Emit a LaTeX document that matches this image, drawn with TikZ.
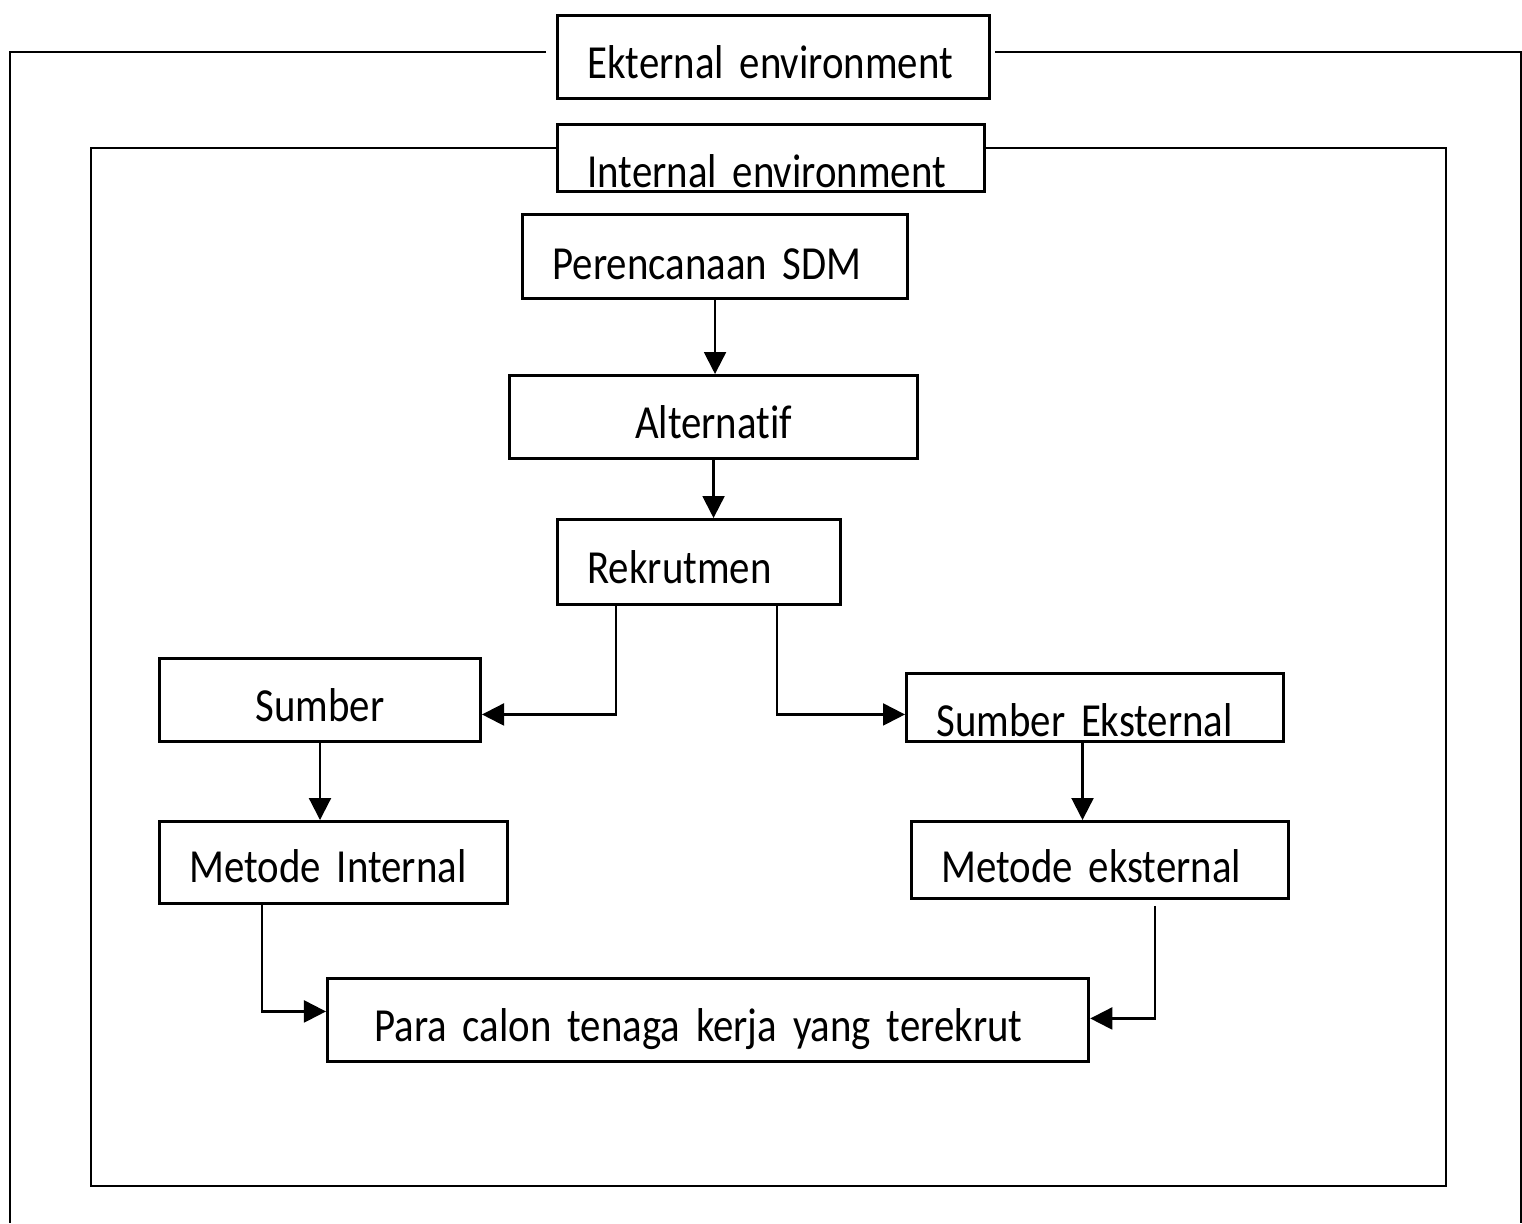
\documentclass[tikz,border=0pt]{standalone}
\usepackage{fontspec}
\setmainfont{Carlito}[FakeStretch=0.86, Ligatures=NoCommon]
\usetikzlibrary{arrows.meta}
\newcommand\boxfont{\fontsize{13.5pt}{16pt}\selectfont\spaceskip=0.17em\relax}

\tikzset{
  box/.style={draw, line width=0.8pt, anchor=north west, align=left,
    inner xsep=0.3cm, inner ysep=0pt, text height=0.43cm, text depth=0pt,
    font=\boxfont},
  arr/.style={-{Triangle[length=0.22cm,width=0.22cm]}, line width=0.6pt},
  frame/.style={line width=0.7pt}
}

\begin{document}
\begin{tikzpicture}[x=0.01cm,y=-0.01cm]
\useasboundingbox (0,0) rectangle (1522,1223);

\node[box, text width=3.72cm, minimum height=0.83cm] (ekst) at (556,14) {Ekternal environment};
\node[box, text width=3.67cm, minimum height=0.67cm, text height=0.59cm] (intl) at (556,123) {Internal environment};
\node[box, text width=3.25cm, minimum height=0.84cm, text height=0.46cm] (plan) at (521,213) {Perencanaan SDM};
\node[box, text width=4.08cm, minimum height=0.83cm, inner xsep=0pt, align=center] (alt) at (508,374) {Alternatif};
\node[box, text width=2.23cm, minimum height=0.85cm] (rek) at (556,518) {Rekrutmen};
\node[box, text width=3.21cm, minimum height=0.83cm, inner xsep=0pt, align=center] (sumber) at (158,657) {Sumber};
\node[box, text width=3.17cm, minimum height=0.68cm, text height=0.58cm] (sumext) at (905,672) {Sumber Eksternal};
\node[box, text width=2.88cm, minimum height=0.82cm, text height=0.40cm] (metint) at (158,820) {Metode Internal};
\node[box, text width=3.17cm, minimum height=0.77cm, text height=0.45cm] (meteks) at (910,820) {Metode eksternal};
\node[box, text width=6.67cm, minimum height=0.83cm, inner xsep=0.47cm] (para) at (326,977) {Para calon tenaga kerja yang terekrut};

% outer frame
\draw[frame] (546,52) -- (10,52) -- (10,1223);
\draw[frame] (995,52) -- (1521,52) -- (1521,1223);
% inner frame
\draw[frame] (556,148) -- (91,148) -- (91,1186) -- (1446,1186) -- (1446,148) -- (983,148);

\draw[arr] (plan.south) -- (plan.south |- alt.north);
\draw[arr] (alt.south) -- (alt.south |- rek.north);
\draw[arr] ([xshift=0.6cm]rek.south west) |- ([yshift=-0.145cm]sumber.east);
\draw[arr] ([xshift=2.21cm]rek.south west) |- ([yshift=-0.07cm]sumext.west);
\draw[arr] (sumber.south) -- (sumber.south |- metint.north);
\draw[arr] ([xshift=-0.125cm]sumext.south) -- ([xshift=-0.125cm]sumext.south |- meteks.north);
\draw[arr] ([xshift=1.04cm]metint.south west) |- ([yshift=0.085cm]para.west);
\draw[arr] ([xshift=2.45cm,yshift=-0.06cm]meteks.south west) |- ([yshift=0.015cm]para.east);
\end{tikzpicture}
\end{document}
